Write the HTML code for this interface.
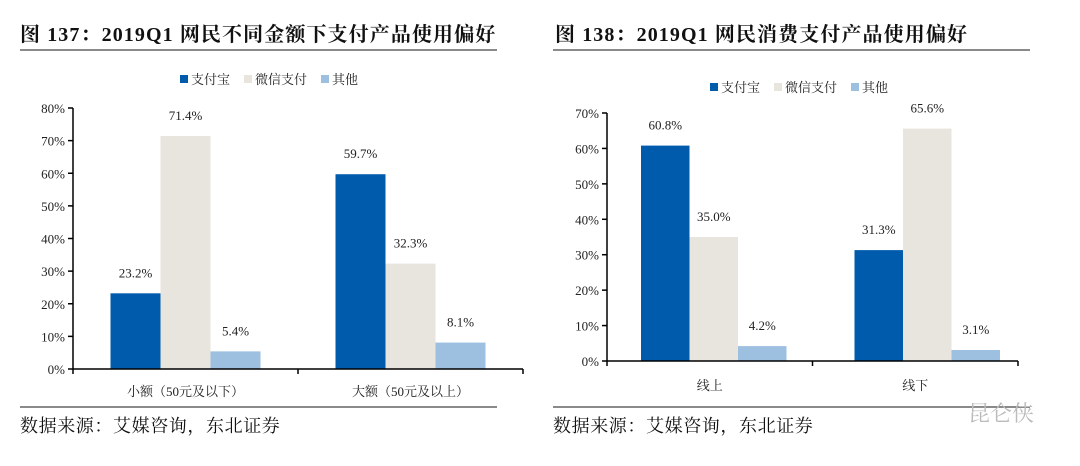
<!DOCTYPE html>
<html><head><meta charset="utf-8">
<style>
body{margin:0;width:1080px;height:461px;background:#fff;overflow:hidden;font-family:"Liberation Serif","Noto Serif CJK SC",serif;}
svg text{font-family:"Liberation Serif","Noto Serif CJK SC",serif;}
</style></head>
<body>
<svg id="s" width="1080" height="461">
<text x="20" y="41" font-size="20" font-weight="bold" letter-spacing="1.1" fill="#111">图 137：2019Q1 网民不同金额下支付产品使用偏好</text>
<line x1="20" y1="50" x2="497" y2="50" stroke="#444" stroke-width="1.3"/>
<text x="555" y="41" font-size="20" font-weight="bold" letter-spacing="1.1" fill="#111">图 138：2019Q1 网民消费支付产品使用偏好</text>
<line x1="553" y1="50" x2="1030" y2="50" stroke="#444" stroke-width="1.3"/>
<line x1="20" y1="407" x2="497" y2="407" stroke="#444" stroke-width="1.3"/>
<line x1="553" y1="407" x2="1030" y2="407" stroke="#444" stroke-width="1.3"/>
<text x="20" y="432" font-size="18" letter-spacing="0.6" fill="#111">数据来源：艾媒咨询，东北证券</text>
<text x="553" y="432" font-size="18" letter-spacing="0.6" fill="#111">数据来源：艾媒咨询，东北证券</text>
<text x="968" y="421" font-size="22" fill="#bbb" font-family="Liberation Sans,Noto Sans CJK SC,sans-serif">昆仑侠</text>
</svg>
<script>
const seriesNames=["支付宝","微信支付","其他"];
const colors=["#005bac","#e8e4de","#9dbfe0"];
const cats1=["小额（50元及以下）","大额（50元及以上）"];
const alipay1=[23.2,59.7];
const wechat1=[71.4,32.3];
const other1=[5.4,8.1];
const ticks1=[0,10,20,30,40,50,60,70,80];
const cats2=["线上","线下"];
const alipay2=[60.8,31.3];
const wechat2=[35.0,65.6];
const other2=[4.2,3.1];
const ticks2=[0,10,20,30,40,50,60,70];
const NS="http://www.w3.org/2000/svg";
const svg=document.getElementById('s');
function mk(tag,attrs,txt){const e=document.createElementNS(NS,tag);for(const k in attrs)e.setAttribute(k,attrs[k]);if(txt!==undefined)e.textContent=txt;svg.appendChild(e);return e;}
function chart(id,x0,x1,y0,yTop,maxV,ticks,cats,series,barW,catY,legY,legX,offs){
  const y=v=>y0-(v/maxV)*(y0-yTop);
  const cw=(x1-x0)/cats.length;
  let e;
  ticks.forEach(t=>{
    e=mk('text',{x:x0-8,y:y(t)+5,'font-size':13,'text-anchor':'end',fill:'#222'},t+'%');
    
    
    e=mk('line',{x1:x0-5,y1:y(t),x2:x0,y2:y(t),stroke:'#000','stroke-width':1.5});
    
    
  });
  e=mk('line',{x1:x0,y1:yTop,x2:x0,y2:y0,stroke:'#000','stroke-width':1.5});
  
  
  cats.forEach((c,i)=>{
    const cx=x0+cw*(i+0.5);
    const bc=cx+offs[i];
    series.forEach((s,j)=>{
      const bx=bc-barW*1.5+barW*j;
      e=mk('rect',{x:bx,y:y(s[i]),width:barW,height:y0-y(s[i]),fill:colors[j]});
      
      
      e=mk('text',{x:bx+barW/2,y:y(s[i])-16,'font-size':13,'text-anchor':'middle',fill:'#222'},s[i].toFixed(1)+'%');
      
      
    });
    e=mk('text',{x:cx,y:catY,'font-size':13,'text-anchor':'middle',fill:'#222'},c);
    
    
  });
  e=mk('line',{x1:x0,y1:y0,x2:x1,y2:y0,stroke:'#000','stroke-width':1.5});
  
  
  for(let k=0;k<=cats.length;k++){
    e=mk('line',{x1:x0+cw*k,y1:y0,x2:x0+cw*k,y2:y0+5,stroke:'#000','stroke-width':1.5});
    
    
  }
  let lx=legX;
  seriesNames.forEach((n,j)=>{
    e=mk('rect',{x:lx,y:legY-9,width:8,height:8,fill:colors[j]});
    
    
    e=mk('text',{x:lx+11,y:legY,'font-size':13,fill:'#222'},n);
    
    
    lx+=11+n.length*13+14;
  });
}
chart('c137',73,523,369,108,80,ticks1,cats1,[alipay1,wechat1,other1],50,396,84,180,[0,0]);
chart('c138',607,1018,361,113,70,ticks2,cats2,[alipay2,wechat2,other2],48.5,390,92,710,[4,12]);
</script>
</body></html>
